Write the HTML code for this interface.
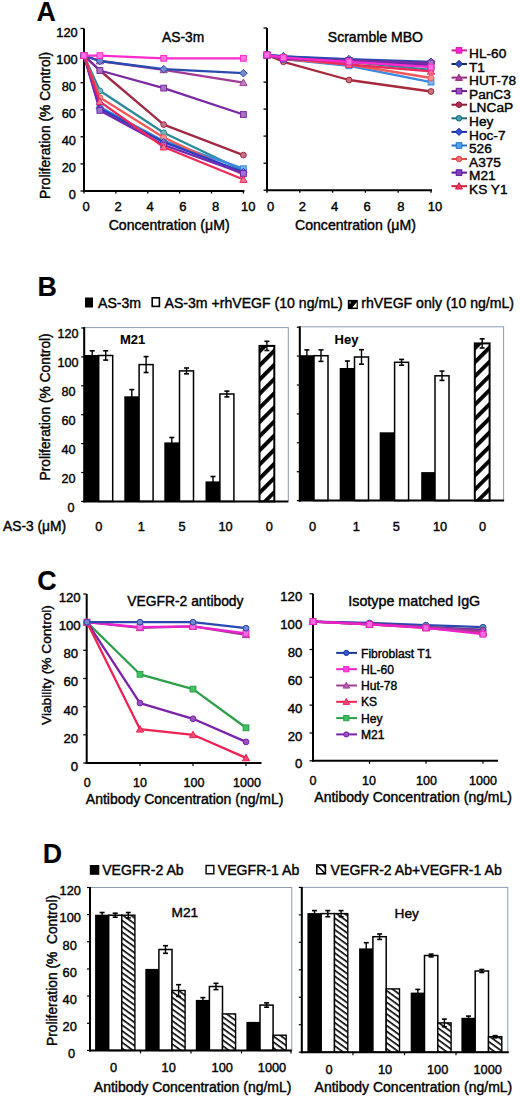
<!DOCTYPE html><html><head><meta charset="utf-8"><style>html,body{margin:0;padding:0;background:#fff;}svg{display:block;}</style></head><body>
<svg width="520" height="1097" viewBox="0 0 520 1097" font-family='"Liberation Sans", sans-serif' fill="#000">
<style>text{stroke:#000;stroke-width:0.4px;} text[font-weight=bold]{stroke-width:0.1px;}</style>
<rect width="520" height="1097" fill="#fff"/>
<defs>
<pattern id="hB" patternUnits="userSpaceOnUse" width="10" height="10" patternTransform="rotate(-45)"><rect width="10" height="10" fill="#fff"/><rect width="10" height="3.9" fill="#000"/></pattern>
<pattern id="hD" patternUnits="userSpaceOnUse" width="4.7" height="4.7" patternTransform="rotate(36)"><rect width="4.7" height="4.7" fill="#fff"/><rect width="4.7" height="1.6" fill="#000"/></pattern>
</defs>
<text x="36.5" y="21.2" font-size="26.8" text-anchor="start" font-weight="bold" >A</text>
<line x1="84.0" y1="28.5" x2="84.0" y2="192.0" stroke="#000" stroke-width="2" />
<line x1="83.0" y1="191.0" x2="244.4" y2="191.0" stroke="#000" stroke-width="2" />
<line x1="80.5" y1="191.0" x2="84.0" y2="191.0" stroke="#000" stroke-width="1.3" />
<text x="75.9" y="199.4" font-size="12.8" text-anchor="end" >0</text>
<line x1="80.5" y1="163.9" x2="84.0" y2="163.9" stroke="#000" stroke-width="1.3" />
<text x="75.9" y="172.3" font-size="12.8" text-anchor="end" >20</text>
<line x1="80.5" y1="136.8" x2="84.0" y2="136.8" stroke="#000" stroke-width="1.3" />
<text x="75.9" y="145.2" font-size="12.8" text-anchor="end" >40</text>
<line x1="80.5" y1="109.8" x2="84.0" y2="109.8" stroke="#000" stroke-width="1.3" />
<text x="75.9" y="118.2" font-size="12.8" text-anchor="end" >60</text>
<line x1="80.5" y1="82.7" x2="84.0" y2="82.7" stroke="#000" stroke-width="1.3" />
<text x="75.9" y="91.1" font-size="12.8" text-anchor="end" >80</text>
<line x1="80.5" y1="55.6" x2="84.0" y2="55.6" stroke="#000" stroke-width="1.3" />
<text x="77.7" y="64.0" font-size="12.8" text-anchor="end" >100</text>
<line x1="80.5" y1="28.5" x2="84.0" y2="28.5" stroke="#000" stroke-width="1.3" />
<text x="77.7" y="36.9" font-size="12.8" text-anchor="end" >120</text>
<line x1="84.0" y1="191.0" x2="84.0" y2="193.5" stroke="#000" stroke-width="1.3" />
<text x="86.0" y="211.3" font-size="13" text-anchor="middle" >0</text>
<line x1="115.9" y1="191.0" x2="115.9" y2="193.5" stroke="#000" stroke-width="1.3" />
<text x="118.2" y="211.3" font-size="13" text-anchor="middle" >2</text>
<line x1="147.8" y1="191.0" x2="147.8" y2="193.5" stroke="#000" stroke-width="1.3" />
<text x="150.1" y="211.3" font-size="13" text-anchor="middle" >4</text>
<line x1="179.6" y1="191.0" x2="179.6" y2="193.5" stroke="#000" stroke-width="1.3" />
<text x="182.9" y="211.3" font-size="13" text-anchor="middle" >6</text>
<line x1="211.5" y1="191.0" x2="211.5" y2="193.5" stroke="#000" stroke-width="1.3" />
<text x="215.6" y="211.3" font-size="13" text-anchor="middle" >8</text>
<line x1="243.4" y1="191.0" x2="243.4" y2="193.5" stroke="#000" stroke-width="1.3" />
<text x="248.2" y="211.3" font-size="13" text-anchor="middle" >10</text>
<text x="162.0" y="42.0" font-size="13.8" text-anchor="start" >AS-3m</text>
<text x="108.7" y="229.5" font-size="14.1" text-anchor="start" >Concentration (&#956;M)</text>
<text x="0" y="0" font-size="13.8" transform="translate(49.5,199.0) rotate(-90)">Proliferation (% Control)</text>
<polyline points="84.0,55.6 99.9,70.5 163.7,124.6 243.4,155.1" fill="none" stroke="#a02a44" stroke-width="2.3" stroke-linejoin="round"/>
<circle cx="84.0" cy="55.6" r="2.9" fill="#c17485" stroke="#a02a44" stroke-width="1"/>
<circle cx="99.9" cy="70.5" r="2.9" fill="#c17485" stroke="#a02a44" stroke-width="1"/>
<circle cx="163.7" cy="124.6" r="2.9" fill="#c17485" stroke="#a02a44" stroke-width="1"/>
<circle cx="243.4" cy="155.1" r="2.9" fill="#c17485" stroke="#a02a44" stroke-width="1"/>
<polyline points="84.0,55.6 99.9,70.5 163.7,88.1 243.4,114.5" fill="none" stroke="#7a2aa0" stroke-width="2.3" stroke-linejoin="round"/>
<rect x="81.1" y="52.7" width="5.8" height="5.8" fill="#a874c1" stroke="#7a2aa0" stroke-width="1"/>
<rect x="97.0" y="67.6" width="5.8" height="5.8" fill="#a874c1" stroke="#7a2aa0" stroke-width="1"/>
<rect x="160.8" y="85.2" width="5.8" height="5.8" fill="#a874c1" stroke="#7a2aa0" stroke-width="1"/>
<rect x="240.5" y="111.6" width="5.8" height="5.8" fill="#a874c1" stroke="#7a2aa0" stroke-width="1"/>
<polyline points="84.0,55.6 99.9,90.8 163.7,132.8 243.4,170.7" fill="none" stroke="#2a8a9a" stroke-width="2.3" stroke-linejoin="round"/>
<circle cx="84.0" cy="55.6" r="2.9" fill="#74b2bd" stroke="#2a8a9a" stroke-width="1"/>
<circle cx="99.9" cy="90.8" r="2.9" fill="#74b2bd" stroke="#2a8a9a" stroke-width="1"/>
<circle cx="163.7" cy="132.8" r="2.9" fill="#74b2bd" stroke="#2a8a9a" stroke-width="1"/>
<circle cx="243.4" cy="170.7" r="2.9" fill="#74b2bd" stroke="#2a8a9a" stroke-width="1"/>
<polyline points="84.0,55.6 99.9,107.0 163.7,140.9 243.4,168.7" fill="none" stroke="#3a8ae0" stroke-width="2.3" stroke-linejoin="round"/>
<rect x="81.1" y="52.7" width="5.8" height="5.8" fill="#7eb2ea" stroke="#3a8ae0" stroke-width="1"/>
<rect x="97.0" y="104.1" width="5.8" height="5.8" fill="#7eb2ea" stroke="#3a8ae0" stroke-width="1"/>
<rect x="160.8" y="138.0" width="5.8" height="5.8" fill="#7eb2ea" stroke="#3a8ae0" stroke-width="1"/>
<rect x="240.5" y="165.8" width="5.8" height="5.8" fill="#7eb2ea" stroke="#3a8ae0" stroke-width="1"/>
<polyline points="84.0,55.6 99.9,97.6 163.7,137.5 243.4,174.8" fill="none" stroke="#f05a5a" stroke-width="2.3" stroke-linejoin="round"/>
<circle cx="84.0" cy="55.6" r="2.9" fill="#f59393" stroke="#f05a5a" stroke-width="1"/>
<circle cx="99.9" cy="97.6" r="2.9" fill="#f59393" stroke="#f05a5a" stroke-width="1"/>
<circle cx="163.7" cy="137.5" r="2.9" fill="#f59393" stroke="#f05a5a" stroke-width="1"/>
<circle cx="243.4" cy="174.8" r="2.9" fill="#f59393" stroke="#f05a5a" stroke-width="1"/>
<polyline points="84.0,55.6 99.9,108.4 163.7,142.2 243.4,172.0" fill="none" stroke="#2840c0" stroke-width="2.3" stroke-linejoin="round"/>
<path d="M84.0 51.8L87.8 55.6L84.0 59.4L80.2 55.6Z" fill="#7382d6" stroke="#2840c0" stroke-width="1"/>
<path d="M99.9 104.6L103.7 108.4L99.9 112.2L96.2 108.4Z" fill="#7382d6" stroke="#2840c0" stroke-width="1"/>
<path d="M163.7 138.5L167.5 142.2L163.7 146.0L159.9 142.2Z" fill="#7382d6" stroke="#2840c0" stroke-width="1"/>
<path d="M243.4 168.3L247.2 172.0L243.4 175.8L239.6 172.0Z" fill="#7382d6" stroke="#2840c0" stroke-width="1"/>
<polyline points="84.0,55.6 99.9,110.4 163.7,145.0 243.4,173.4" fill="none" stroke="#7028b0" stroke-width="2.3" stroke-linejoin="round"/>
<rect x="81.1" y="52.7" width="5.8" height="5.8" fill="#a273cb" stroke="#7028b0" stroke-width="1"/>
<rect x="97.0" y="107.5" width="5.8" height="5.8" fill="#a273cb" stroke="#7028b0" stroke-width="1"/>
<rect x="160.8" y="142.1" width="5.8" height="5.8" fill="#a273cb" stroke="#7028b0" stroke-width="1"/>
<rect x="240.5" y="170.5" width="5.8" height="5.8" fill="#a273cb" stroke="#7028b0" stroke-width="1"/>
<polyline points="84.0,55.6 99.9,101.6 163.7,147.0 243.4,179.5" fill="none" stroke="#ee2a5a" stroke-width="2.3" stroke-linejoin="round"/>
<path d="M84.0 52.0L87.6 58.5L80.4 58.5Z" fill="#f37493" stroke="#ee2a5a" stroke-width="1"/>
<path d="M99.9 98.0L103.6 104.5L96.3 104.5Z" fill="#f37493" stroke="#ee2a5a" stroke-width="1"/>
<path d="M163.7 143.4L167.3 149.9L160.1 149.9Z" fill="#f37493" stroke="#ee2a5a" stroke-width="1"/>
<path d="M243.4 175.9L247.0 182.4L239.8 182.4Z" fill="#f37493" stroke="#ee2a5a" stroke-width="1"/>
<polyline points="84.0,55.6 99.9,61.0 163.7,69.8 243.4,82.7" fill="none" stroke="#a03c96" stroke-width="2.3" stroke-linejoin="round"/>
<path d="M84.0 52.0L87.6 58.5L80.4 58.5Z" fill="#c180ba" stroke="#a03c96" stroke-width="1"/>
<path d="M99.9 57.4L103.6 63.9L96.3 63.9Z" fill="#c180ba" stroke="#a03c96" stroke-width="1"/>
<path d="M163.7 66.2L167.3 72.7L160.1 72.7Z" fill="#c180ba" stroke="#a03c96" stroke-width="1"/>
<path d="M243.4 79.0L247.0 85.6L239.8 85.6Z" fill="#c180ba" stroke="#a03c96" stroke-width="1"/>
<polyline points="84.0,55.6 99.9,61.0 163.7,69.1 243.4,73.2" fill="none" stroke="#2a4ab0" stroke-width="2.3" stroke-linejoin="round"/>
<path d="M84.0 51.8L87.8 55.6L84.0 59.4L80.2 55.6Z" fill="#7489cb" stroke="#2a4ab0" stroke-width="1"/>
<path d="M99.9 57.2L103.7 61.0L99.9 64.8L96.2 61.0Z" fill="#7489cb" stroke="#2a4ab0" stroke-width="1"/>
<path d="M163.7 65.4L167.5 69.1L163.7 72.9L159.9 69.1Z" fill="#7489cb" stroke="#2a4ab0" stroke-width="1"/>
<path d="M243.4 69.4L247.2 73.2L243.4 77.0L239.6 73.2Z" fill="#7489cb" stroke="#2a4ab0" stroke-width="1"/>
<polyline points="84.0,55.6 99.9,55.6 163.7,58.3 243.4,58.3" fill="none" stroke="#ff2acc" stroke-width="2.3" stroke-linejoin="round"/>
<rect x="81.1" y="52.7" width="5.8" height="5.8" fill="#ff74dd" stroke="#ff2acc" stroke-width="1"/>
<rect x="97.0" y="52.7" width="5.8" height="5.8" fill="#ff74dd" stroke="#ff2acc" stroke-width="1"/>
<rect x="160.8" y="55.4" width="5.8" height="5.8" fill="#ff74dd" stroke="#ff2acc" stroke-width="1"/>
<rect x="240.5" y="55.4" width="5.8" height="5.8" fill="#ff74dd" stroke="#ff2acc" stroke-width="1"/>
<line x1="267.0" y1="28.0" x2="267.0" y2="191.2" stroke="#000" stroke-width="2" />
<line x1="266.0" y1="190.2" x2="432.0" y2="190.2" stroke="#000" stroke-width="2" />
<line x1="263.5" y1="190.2" x2="267.0" y2="190.2" stroke="#000" stroke-width="1.3" />
<line x1="263.5" y1="163.2" x2="267.0" y2="163.2" stroke="#000" stroke-width="1.3" />
<line x1="263.5" y1="136.1" x2="267.0" y2="136.1" stroke="#000" stroke-width="1.3" />
<line x1="263.5" y1="109.1" x2="267.0" y2="109.1" stroke="#000" stroke-width="1.3" />
<line x1="263.5" y1="82.1" x2="267.0" y2="82.1" stroke="#000" stroke-width="1.3" />
<line x1="263.5" y1="55.0" x2="267.0" y2="55.0" stroke="#000" stroke-width="1.3" />
<line x1="263.5" y1="28.0" x2="267.0" y2="28.0" stroke="#000" stroke-width="1.3" />
<line x1="267.0" y1="190.2" x2="267.0" y2="192.7" stroke="#000" stroke-width="1.3" />
<text x="270.6" y="211.3" font-size="13" text-anchor="middle" >0</text>
<line x1="299.8" y1="190.2" x2="299.8" y2="192.7" stroke="#000" stroke-width="1.3" />
<text x="302.3" y="211.3" font-size="13" text-anchor="middle" >2</text>
<line x1="332.6" y1="190.2" x2="332.6" y2="192.7" stroke="#000" stroke-width="1.3" />
<text x="334.5" y="211.3" font-size="13" text-anchor="middle" >4</text>
<line x1="365.4" y1="190.2" x2="365.4" y2="192.7" stroke="#000" stroke-width="1.3" />
<text x="367.1" y="211.3" font-size="13" text-anchor="middle" >6</text>
<line x1="398.2" y1="190.2" x2="398.2" y2="192.7" stroke="#000" stroke-width="1.3" />
<text x="400.8" y="211.3" font-size="13" text-anchor="middle" >8</text>
<line x1="431.0" y1="190.2" x2="431.0" y2="192.7" stroke="#000" stroke-width="1.3" />
<text x="434.9" y="211.3" font-size="13" text-anchor="middle" >10</text>
<text x="327.8" y="42.0" font-size="14.05" text-anchor="start" >Scramble MBO</text>
<text x="295.0" y="229.5" font-size="14.1" text-anchor="start" >Concentration (&#956;M)</text>
<polyline points="267.0,55.0 283.4,61.8 349.0,80.0 431.0,91.5" fill="none" stroke="#a8283c" stroke-width="2.3" stroke-linejoin="round"/>
<circle cx="267.0" cy="55.0" r="2.9" fill="#c67380" stroke="#a8283c" stroke-width="1"/>
<circle cx="283.4" cy="61.8" r="2.9" fill="#c67380" stroke="#a8283c" stroke-width="1"/>
<circle cx="349.0" cy="80.0" r="2.9" fill="#c67380" stroke="#a8283c" stroke-width="1"/>
<circle cx="431.0" cy="91.5" r="2.9" fill="#c67380" stroke="#a8283c" stroke-width="1"/>
<polyline points="267.0,55.0 283.4,59.1 349.0,65.8 431.0,82.1" fill="none" stroke="#3a8ae0" stroke-width="2.3" stroke-linejoin="round"/>
<rect x="264.1" y="52.1" width="5.8" height="5.8" fill="#7eb2ea" stroke="#3a8ae0" stroke-width="1"/>
<rect x="280.5" y="56.2" width="5.8" height="5.8" fill="#7eb2ea" stroke="#3a8ae0" stroke-width="1"/>
<rect x="346.1" y="62.9" width="5.8" height="5.8" fill="#7eb2ea" stroke="#3a8ae0" stroke-width="1"/>
<rect x="428.1" y="79.2" width="5.8" height="5.8" fill="#7eb2ea" stroke="#3a8ae0" stroke-width="1"/>
<polyline points="267.0,55.0 283.4,59.1 349.0,64.5 431.0,78.0" fill="none" stroke="#f05a5a" stroke-width="2.3" stroke-linejoin="round"/>
<circle cx="267.0" cy="55.0" r="2.9" fill="#f59393" stroke="#f05a5a" stroke-width="1"/>
<circle cx="283.4" cy="59.1" r="2.9" fill="#f59393" stroke="#f05a5a" stroke-width="1"/>
<circle cx="349.0" cy="64.5" r="2.9" fill="#f59393" stroke="#f05a5a" stroke-width="1"/>
<circle cx="431.0" cy="78.0" r="2.9" fill="#f59393" stroke="#f05a5a" stroke-width="1"/>
<polyline points="267.0,55.0 283.4,57.7 349.0,61.8 431.0,69.9" fill="none" stroke="#2a8a9a" stroke-width="2.3" stroke-linejoin="round"/>
<circle cx="267.0" cy="55.0" r="2.9" fill="#74b2bd" stroke="#2a8a9a" stroke-width="1"/>
<circle cx="283.4" cy="57.7" r="2.9" fill="#74b2bd" stroke="#2a8a9a" stroke-width="1"/>
<circle cx="349.0" cy="61.8" r="2.9" fill="#74b2bd" stroke="#2a8a9a" stroke-width="1"/>
<circle cx="431.0" cy="69.9" r="2.9" fill="#74b2bd" stroke="#2a8a9a" stroke-width="1"/>
<polyline points="267.0,55.0 283.4,57.7 349.0,64.5 431.0,71.3" fill="none" stroke="#ee2a5a" stroke-width="2.3" stroke-linejoin="round"/>
<path d="M267.0 51.4L270.6 57.9L263.4 57.9Z" fill="#f37493" stroke="#ee2a5a" stroke-width="1"/>
<path d="M283.4 54.1L287.0 60.6L279.8 60.6Z" fill="#f37493" stroke="#ee2a5a" stroke-width="1"/>
<path d="M349.0 60.9L352.6 67.4L345.4 67.4Z" fill="#f37493" stroke="#ee2a5a" stroke-width="1"/>
<path d="M431.0 67.6L434.6 74.2L427.4 74.2Z" fill="#f37493" stroke="#ee2a5a" stroke-width="1"/>
<polyline points="267.0,55.0 283.4,57.7 349.0,61.8 431.0,65.8" fill="none" stroke="#a03c96" stroke-width="2.3" stroke-linejoin="round"/>
<path d="M267.0 51.4L270.6 57.9L263.4 57.9Z" fill="#c180ba" stroke="#a03c96" stroke-width="1"/>
<path d="M283.4 54.1L287.0 60.6L279.8 60.6Z" fill="#c180ba" stroke="#a03c96" stroke-width="1"/>
<path d="M349.0 58.2L352.6 64.7L345.4 64.7Z" fill="#c180ba" stroke="#a03c96" stroke-width="1"/>
<path d="M431.0 62.2L434.6 68.7L427.4 68.7Z" fill="#c180ba" stroke="#a03c96" stroke-width="1"/>
<polyline points="267.0,55.0 283.4,57.7 349.0,60.4 431.0,64.5" fill="none" stroke="#7028b0" stroke-width="2.3" stroke-linejoin="round"/>
<rect x="264.1" y="52.1" width="5.8" height="5.8" fill="#a273cb" stroke="#7028b0" stroke-width="1"/>
<rect x="280.5" y="54.8" width="5.8" height="5.8" fill="#a273cb" stroke="#7028b0" stroke-width="1"/>
<rect x="346.1" y="57.5" width="5.8" height="5.8" fill="#a273cb" stroke="#7028b0" stroke-width="1"/>
<rect x="428.1" y="61.6" width="5.8" height="5.8" fill="#a273cb" stroke="#7028b0" stroke-width="1"/>
<polyline points="267.0,55.0 283.4,56.4 349.0,60.4 431.0,63.1" fill="none" stroke="#2840c0" stroke-width="2.3" stroke-linejoin="round"/>
<path d="M267.0 51.3L270.8 55.0L267.0 58.8L263.2 55.0Z" fill="#7382d6" stroke="#2840c0" stroke-width="1"/>
<path d="M283.4 52.6L287.2 56.4L283.4 60.2L279.6 56.4Z" fill="#7382d6" stroke="#2840c0" stroke-width="1"/>
<path d="M349.0 56.7L352.8 60.4L349.0 64.2L345.2 60.4Z" fill="#7382d6" stroke="#2840c0" stroke-width="1"/>
<path d="M431.0 59.4L434.8 63.1L431.0 66.9L427.2 63.1Z" fill="#7382d6" stroke="#2840c0" stroke-width="1"/>
<polyline points="267.0,55.0 283.4,56.4 349.0,59.1 431.0,61.8" fill="none" stroke="#2a4ab0" stroke-width="2.3" stroke-linejoin="round"/>
<path d="M267.0 51.3L270.8 55.0L267.0 58.8L263.2 55.0Z" fill="#7489cb" stroke="#2a4ab0" stroke-width="1"/>
<path d="M283.4 52.6L287.2 56.4L283.4 60.2L279.6 56.4Z" fill="#7489cb" stroke="#2a4ab0" stroke-width="1"/>
<path d="M349.0 55.3L352.8 59.1L349.0 62.9L345.2 59.1Z" fill="#7489cb" stroke="#2a4ab0" stroke-width="1"/>
<path d="M431.0 58.0L434.8 61.8L431.0 65.6L427.2 61.8Z" fill="#7489cb" stroke="#2a4ab0" stroke-width="1"/>
<polyline points="267.0,55.0 283.4,59.1 349.0,60.4 431.0,63.1" fill="none" stroke="#7a2aa0" stroke-width="2.3" stroke-linejoin="round"/>
<rect x="264.1" y="52.1" width="5.8" height="5.8" fill="#a874c1" stroke="#7a2aa0" stroke-width="1"/>
<rect x="280.5" y="56.2" width="5.8" height="5.8" fill="#a874c1" stroke="#7a2aa0" stroke-width="1"/>
<rect x="346.1" y="57.5" width="5.8" height="5.8" fill="#a874c1" stroke="#7a2aa0" stroke-width="1"/>
<rect x="428.1" y="60.2" width="5.8" height="5.8" fill="#a874c1" stroke="#7a2aa0" stroke-width="1"/>
<polyline points="267.0,55.0 283.4,57.7 349.0,61.8 431.0,67.2" fill="none" stroke="#ff2acc" stroke-width="2.3" stroke-linejoin="round"/>
<rect x="264.1" y="52.1" width="5.8" height="5.8" fill="#ff74dd" stroke="#ff2acc" stroke-width="1"/>
<rect x="280.5" y="54.8" width="5.8" height="5.8" fill="#ff74dd" stroke="#ff2acc" stroke-width="1"/>
<rect x="346.1" y="58.9" width="5.8" height="5.8" fill="#ff74dd" stroke="#ff2acc" stroke-width="1"/>
<rect x="428.1" y="64.3" width="5.8" height="5.8" fill="#ff74dd" stroke="#ff2acc" stroke-width="1"/>
<line x1="451.5" y1="50.4" x2="467.0" y2="50.4" stroke="#d0209a" stroke-width="2" />
<rect x="456.2" y="47.6" width="5.6" height="5.6" fill="#ff22dd" stroke="#d0209a" stroke-width="1"/>
<text x="469.0" y="58.0" font-size="13.7" text-anchor="start" >HL-60</text>
<line x1="451.5" y1="64.0" x2="467.0" y2="64.0" stroke="#1a2a6a" stroke-width="2" />
<path d="M459.0 60.3L462.6 64.0L459.0 67.6L455.4 64.0Z" fill="#2f4fc0" stroke="#1a2a6a" stroke-width="1"/>
<text x="469.0" y="71.6" font-size="13.7" text-anchor="start" >T1</text>
<line x1="451.5" y1="77.6" x2="467.0" y2="77.6" stroke="#9a2a7a" stroke-width="2" />
<path d="M459.0 74.1L462.5 80.4L455.5 80.4Z" fill="#b040a0" stroke="#9a2a7a" stroke-width="1"/>
<text x="469.0" y="85.2" font-size="13.7" text-anchor="start" >HUT-78</text>
<line x1="451.5" y1="91.1" x2="467.0" y2="91.1" stroke="#6a1a8a" stroke-width="2" />
<rect x="456.2" y="88.3" width="5.6" height="5.6" fill="#9a50c0" stroke="#6a1a8a" stroke-width="1"/>
<text x="469.0" y="98.7" font-size="13.7" text-anchor="start" >PanC3</text>
<line x1="451.5" y1="104.7" x2="467.0" y2="104.7" stroke="#901a3a" stroke-width="2" />
<circle cx="459.0" cy="104.7" r="2.8" fill="#b03050" stroke="#901a3a" stroke-width="1"/>
<text x="469.0" y="112.3" font-size="13.7" text-anchor="start" >LNCaP</text>
<line x1="451.5" y1="118.3" x2="467.0" y2="118.3" stroke="#1a6a7a" stroke-width="2" />
<circle cx="459.0" cy="118.3" r="2.8" fill="#40a0b0" stroke="#1a6a7a" stroke-width="1"/>
<text x="469.0" y="125.9" font-size="13.7" text-anchor="start" >Hey</text>
<line x1="451.5" y1="131.9" x2="467.0" y2="131.9" stroke="#1a2aa0" stroke-width="2" />
<path d="M459.0 128.2L462.6 131.9L459.0 135.5L455.4 131.9Z" fill="#3050d0" stroke="#1a2aa0" stroke-width="1"/>
<text x="469.0" y="139.5" font-size="13.7" text-anchor="start" >Hoc-7</text>
<line x1="451.5" y1="145.5" x2="467.0" y2="145.5" stroke="#2a70c0" stroke-width="2" />
<rect x="456.2" y="142.7" width="5.6" height="5.6" fill="#50a0f0" stroke="#2a70c0" stroke-width="1"/>
<text x="469.0" y="153.1" font-size="13.7" text-anchor="start" >526</text>
<line x1="451.5" y1="159.0" x2="467.0" y2="159.0" stroke="#e04848" stroke-width="2" />
<circle cx="459.0" cy="159.0" r="2.8" fill="#f07070" stroke="#e04848" stroke-width="1"/>
<text x="469.0" y="166.6" font-size="13.7" text-anchor="start" >A375</text>
<line x1="451.5" y1="172.6" x2="467.0" y2="172.6" stroke="#5a1a9a" stroke-width="2" />
<rect x="456.2" y="169.8" width="5.6" height="5.6" fill="#8040c0" stroke="#5a1a9a" stroke-width="1"/>
<text x="469.0" y="180.2" font-size="13.7" text-anchor="start" >M21</text>
<line x1="451.5" y1="186.2" x2="467.0" y2="186.2" stroke="#d01a40" stroke-width="2" />
<path d="M459.0 182.7L462.5 189.0L455.5 189.0Z" fill="#f04060" stroke="#d01a40" stroke-width="1"/>
<text x="469.0" y="193.8" font-size="13.7" text-anchor="start" >KS Y1</text>
<text x="37.5" y="295.6" font-size="26.8" text-anchor="start" font-weight="bold" >B</text>
<rect x="85.0" y="297.5" width="8.0" height="10.0" fill="#000" stroke="none" stroke-width="0" />
<text x="98.0" y="307.6" font-size="14.1" text-anchor="start" >AS-3m</text>
<rect x="152.2" y="297.8" width="7.2" height="8.6" fill="#fff" stroke="#000" stroke-width="1.6" />
<text x="164.5" y="307.6" font-size="14.1" text-anchor="start" >AS-3m +rhVEGF (10 ng/mL)</text>
<rect x="347.8" y="299.9" width="10.0" height="9.2" fill="#000" stroke="none" stroke-width="0" />
<path d="M352.3 307.5 L356.6 302.2 L356.6 307.5 Z" fill="#fff"/>
<ellipse cx="350.2" cy="302.6" rx="0.9" ry="1.3" fill="#888"/>
<text x="361.3" y="307.6" font-size="14.1" text-anchor="start" >rhVEGF only (10 ng/mL)</text>
<rect x="84.2" y="327.6" width="204.1" height="173.8" fill="none" stroke="#8c9bb4" stroke-width="1" />
<rect x="84.7" y="355.0" width="15.0" height="146.4" fill="#000" stroke="none" stroke-width="0" />
<line x1="92.2" y1="350.8" x2="92.2" y2="360.1" stroke="#000" stroke-width="1.4" />
<line x1="89.7" y1="350.8" x2="94.7" y2="350.8" stroke="#000" stroke-width="1.6" />
<line x1="89.7" y1="360.1" x2="94.7" y2="360.1" stroke="#000" stroke-width="1.6" />
<rect x="124.3" y="396.3" width="15.0" height="105.1" fill="#000" stroke="none" stroke-width="0" />
<line x1="131.8" y1="389.6" x2="131.8" y2="404.0" stroke="#000" stroke-width="1.4" />
<line x1="129.3" y1="389.6" x2="134.3" y2="389.6" stroke="#000" stroke-width="1.6" />
<line x1="129.3" y1="404.0" x2="134.3" y2="404.0" stroke="#000" stroke-width="1.6" />
<rect x="164.3" y="442.4" width="15.0" height="59.0" fill="#000" stroke="none" stroke-width="0" />
<line x1="171.8" y1="437.5" x2="171.8" y2="448.2" stroke="#000" stroke-width="1.4" />
<line x1="169.3" y1="437.5" x2="174.3" y2="437.5" stroke="#000" stroke-width="1.6" />
<line x1="169.3" y1="448.2" x2="174.3" y2="448.2" stroke="#000" stroke-width="1.6" />
<rect x="205.5" y="481.4" width="15.0" height="20.0" fill="#000" stroke="none" stroke-width="0" />
<line x1="213.0" y1="476.5" x2="213.0" y2="487.2" stroke="#000" stroke-width="1.4" />
<line x1="210.5" y1="476.5" x2="215.5" y2="476.5" stroke="#000" stroke-width="1.6" />
<line x1="210.5" y1="487.2" x2="215.5" y2="487.2" stroke="#000" stroke-width="1.6" />
<rect x="98.7" y="355.5" width="14.0" height="145.9" fill="#fff" stroke="#000" stroke-width="1.5" />
<line x1="105.7" y1="350.8" x2="105.7" y2="360.1" stroke="#000" stroke-width="1.4" />
<line x1="103.2" y1="350.8" x2="108.2" y2="350.8" stroke="#000" stroke-width="1.6" />
<line x1="103.2" y1="360.1" x2="108.2" y2="360.1" stroke="#000" stroke-width="1.6" />
<rect x="139.1" y="364.6" width="14.0" height="136.8" fill="#fff" stroke="#000" stroke-width="1.5" />
<line x1="146.1" y1="356.6" x2="146.1" y2="372.5" stroke="#000" stroke-width="1.4" />
<line x1="143.6" y1="356.6" x2="148.6" y2="356.6" stroke="#000" stroke-width="1.6" />
<line x1="143.6" y1="372.5" x2="148.6" y2="372.5" stroke="#000" stroke-width="1.6" />
<rect x="179.5" y="370.9" width="14.0" height="130.5" fill="#fff" stroke="#000" stroke-width="1.5" />
<line x1="186.5" y1="368.0" x2="186.5" y2="373.8" stroke="#000" stroke-width="1.4" />
<line x1="184.0" y1="368.0" x2="189.0" y2="368.0" stroke="#000" stroke-width="1.6" />
<line x1="184.0" y1="373.8" x2="189.0" y2="373.8" stroke="#000" stroke-width="1.6" />
<rect x="219.9" y="394.0" width="14.0" height="107.4" fill="#fff" stroke="#000" stroke-width="1.5" />
<line x1="226.9" y1="391.1" x2="226.9" y2="396.9" stroke="#000" stroke-width="1.4" />
<line x1="224.4" y1="391.1" x2="229.4" y2="391.1" stroke="#000" stroke-width="1.6" />
<line x1="224.4" y1="396.9" x2="229.4" y2="396.9" stroke="#000" stroke-width="1.6" />
<rect x="259.5" y="345.9" width="14.8" height="155.5" fill="url(#hB)" stroke="#000" stroke-width="2" />
<line x1="266.9" y1="341.3" x2="266.9" y2="350.5" stroke="#000" stroke-width="1.4" />
<line x1="264.4" y1="341.3" x2="269.4" y2="341.3" stroke="#000" stroke-width="1.6" />
<line x1="264.4" y1="350.5" x2="269.4" y2="350.5" stroke="#000" stroke-width="1.6" />
<line x1="84.2" y1="327.1" x2="84.2" y2="502.4" stroke="#000" stroke-width="2" />
<line x1="83.2" y1="501.4" x2="288.3" y2="501.4" stroke="#000" stroke-width="2" />
<line x1="81.2" y1="501.4" x2="84.2" y2="501.4" stroke="#000" stroke-width="1.2" />
<text x="74.6" y="511.6" font-size="12.6" text-anchor="end" >0</text>
<line x1="81.2" y1="472.5" x2="84.2" y2="472.5" stroke="#000" stroke-width="1.2" />
<text x="75.6" y="482.7" font-size="12.6" text-anchor="end" >20</text>
<line x1="81.2" y1="443.6" x2="84.2" y2="443.6" stroke="#000" stroke-width="1.2" />
<text x="75.6" y="453.8" font-size="12.6" text-anchor="end" >40</text>
<line x1="81.2" y1="414.7" x2="84.2" y2="414.7" stroke="#000" stroke-width="1.2" />
<text x="75.6" y="424.9" font-size="12.6" text-anchor="end" >60</text>
<line x1="81.2" y1="385.8" x2="84.2" y2="385.8" stroke="#000" stroke-width="1.2" />
<text x="75.6" y="396.0" font-size="12.6" text-anchor="end" >80</text>
<line x1="81.2" y1="356.9" x2="84.2" y2="356.9" stroke="#000" stroke-width="1.2" />
<text x="78.4" y="367.1" font-size="12.6" text-anchor="end" >100</text>
<line x1="81.2" y1="328.0" x2="84.2" y2="328.0" stroke="#000" stroke-width="1.2" />
<text x="78.4" y="338.2" font-size="12.6" text-anchor="end" >120</text>
<text x="0" y="0" font-size="13.8" transform="translate(49.8,480.5) rotate(-90)">Proliferation (% Control)</text>
<text x="120.0" y="344.2" font-size="13" text-anchor="start" font-weight="bold" >M21</text>
<rect x="299.8" y="326.8" width="203.8" height="173.8" fill="none" stroke="#8c9bb4" stroke-width="1" />
<rect x="299.1" y="355.2" width="15.5" height="145.4" fill="#000" stroke="none" stroke-width="0" />
<line x1="306.9" y1="349.9" x2="306.9" y2="361.4" stroke="#000" stroke-width="1.4" />
<line x1="304.4" y1="349.9" x2="309.4" y2="349.9" stroke="#000" stroke-width="1.6" />
<line x1="304.4" y1="361.4" x2="309.4" y2="361.4" stroke="#000" stroke-width="1.6" />
<rect x="339.7" y="368.0" width="15.5" height="132.6" fill="#000" stroke="none" stroke-width="0" />
<line x1="347.4" y1="361.0" x2="347.4" y2="376.0" stroke="#000" stroke-width="1.4" />
<line x1="344.9" y1="361.0" x2="349.9" y2="361.0" stroke="#000" stroke-width="1.6" />
<line x1="344.9" y1="376.0" x2="349.9" y2="376.0" stroke="#000" stroke-width="1.6" />
<rect x="379.7" y="432.3" width="15.5" height="68.3" fill="#000" stroke="none" stroke-width="0" />
<rect x="421.2" y="472.1" width="15.5" height="28.5" fill="#000" stroke="none" stroke-width="0" />
<rect x="314.0" y="355.7" width="14.0" height="144.9" fill="#fff" stroke="#000" stroke-width="1.5" />
<line x1="321.0" y1="349.9" x2="321.0" y2="361.4" stroke="#000" stroke-width="1.4" />
<line x1="318.5" y1="349.9" x2="323.5" y2="349.9" stroke="#000" stroke-width="1.6" />
<line x1="318.5" y1="361.4" x2="323.5" y2="361.4" stroke="#000" stroke-width="1.6" />
<rect x="354.5" y="357.0" width="14.0" height="143.6" fill="#fff" stroke="#000" stroke-width="1.5" />
<line x1="361.5" y1="349.7" x2="361.5" y2="364.2" stroke="#000" stroke-width="1.4" />
<line x1="359.0" y1="349.7" x2="364.0" y2="349.7" stroke="#000" stroke-width="1.6" />
<line x1="359.0" y1="364.2" x2="364.0" y2="364.2" stroke="#000" stroke-width="1.6" />
<rect x="394.6" y="362.3" width="14.0" height="138.3" fill="#fff" stroke="#000" stroke-width="1.5" />
<line x1="401.6" y1="359.4" x2="401.6" y2="365.2" stroke="#000" stroke-width="1.4" />
<line x1="399.1" y1="359.4" x2="404.1" y2="359.4" stroke="#000" stroke-width="1.6" />
<line x1="399.1" y1="365.2" x2="404.1" y2="365.2" stroke="#000" stroke-width="1.6" />
<rect x="435.0" y="375.8" width="14.0" height="124.8" fill="#fff" stroke="#000" stroke-width="1.5" />
<line x1="442.0" y1="371.1" x2="442.0" y2="380.4" stroke="#000" stroke-width="1.4" />
<line x1="439.5" y1="371.1" x2="444.5" y2="371.1" stroke="#000" stroke-width="1.6" />
<line x1="439.5" y1="380.4" x2="444.5" y2="380.4" stroke="#000" stroke-width="1.6" />
<rect x="474.8" y="343.4" width="14.8" height="157.2" fill="url(#hB)" stroke="#000" stroke-width="2" />
<line x1="482.2" y1="338.8" x2="482.2" y2="348.0" stroke="#000" stroke-width="1.4" />
<line x1="479.7" y1="338.8" x2="484.7" y2="338.8" stroke="#000" stroke-width="1.6" />
<line x1="479.7" y1="348.0" x2="484.7" y2="348.0" stroke="#000" stroke-width="1.6" />
<line x1="299.8" y1="326.3" x2="299.8" y2="501.6" stroke="#000" stroke-width="2" />
<line x1="298.8" y1="500.6" x2="504.1" y2="500.6" stroke="#000" stroke-width="2" />
<line x1="296.8" y1="500.6" x2="299.8" y2="500.6" stroke="#000" stroke-width="1.2" />
<line x1="296.8" y1="471.7" x2="299.8" y2="471.7" stroke="#000" stroke-width="1.2" />
<line x1="296.8" y1="442.8" x2="299.8" y2="442.8" stroke="#000" stroke-width="1.2" />
<line x1="296.8" y1="413.9" x2="299.8" y2="413.9" stroke="#000" stroke-width="1.2" />
<line x1="296.8" y1="385.0" x2="299.8" y2="385.0" stroke="#000" stroke-width="1.2" />
<line x1="296.8" y1="356.1" x2="299.8" y2="356.1" stroke="#000" stroke-width="1.2" />
<line x1="296.8" y1="327.2" x2="299.8" y2="327.2" stroke="#000" stroke-width="1.2" />
<text x="334.6" y="343.8" font-size="13" text-anchor="start" font-weight="bold" >Hey</text>
<text x="3.0" y="531.0" font-size="13.8" text-anchor="start" >AS-3 (&#956;M)</text>
<text x="98.7" y="530.7" font-size="12.8" text-anchor="middle" >0</text>
<text x="141.3" y="530.7" font-size="12.8" text-anchor="middle" >1</text>
<text x="182.0" y="530.7" font-size="12.8" text-anchor="middle" >5</text>
<text x="225.5" y="530.7" font-size="12.8" text-anchor="middle" >10</text>
<text x="269.2" y="530.7" font-size="12.8" text-anchor="middle" >0</text>
<text x="312.5" y="530.7" font-size="12.8" text-anchor="middle" >0</text>
<text x="356.2" y="530.7" font-size="12.8" text-anchor="middle" >1</text>
<text x="396.2" y="530.7" font-size="12.8" text-anchor="middle" >5</text>
<text x="440.0" y="530.7" font-size="12.8" text-anchor="middle" >10</text>
<text x="482.5" y="530.7" font-size="12.8" text-anchor="middle" >0</text>
<text x="37.3" y="590.2" font-size="26.8" text-anchor="start" font-weight="bold" >C</text>
<line x1="86.7" y1="594.0" x2="86.7" y2="764.0" stroke="#000" stroke-width="2" />
<line x1="85.7" y1="763.0" x2="261.5" y2="763.0" stroke="#000" stroke-width="2" />
<line x1="83.2" y1="763.0" x2="86.7" y2="763.0" stroke="#000" stroke-width="1.2" />
<text x="78.2" y="770.8" font-size="13.2" text-anchor="end" >0</text>
<line x1="83.2" y1="734.8" x2="86.7" y2="734.8" stroke="#000" stroke-width="1.2" />
<text x="78.2" y="742.6" font-size="13.2" text-anchor="end" >20</text>
<line x1="83.2" y1="706.7" x2="86.7" y2="706.7" stroke="#000" stroke-width="1.2" />
<text x="78.2" y="714.5" font-size="13.2" text-anchor="end" >40</text>
<line x1="83.2" y1="678.5" x2="86.7" y2="678.5" stroke="#000" stroke-width="1.2" />
<text x="78.2" y="686.3" font-size="13.2" text-anchor="end" >60</text>
<line x1="83.2" y1="650.3" x2="86.7" y2="650.3" stroke="#000" stroke-width="1.2" />
<text x="78.2" y="658.1" font-size="13.2" text-anchor="end" >80</text>
<line x1="83.2" y1="622.2" x2="86.7" y2="622.2" stroke="#000" stroke-width="1.2" />
<text x="80.7" y="630.0" font-size="13.2" text-anchor="end" >100</text>
<line x1="83.2" y1="594.0" x2="86.7" y2="594.0" stroke="#000" stroke-width="1.2" />
<text x="80.7" y="601.8" font-size="13.2" text-anchor="end" >120</text>
<line x1="140.0" y1="763.0" x2="140.0" y2="766.0" stroke="#000" stroke-width="1.2" />
<line x1="193.0" y1="763.0" x2="193.0" y2="766.0" stroke="#000" stroke-width="1.2" />
<line x1="246.0" y1="763.0" x2="246.0" y2="766.0" stroke="#000" stroke-width="1.2" />
<text x="87.2" y="787.0" font-size="12.5" text-anchor="middle" >0</text>
<text x="140.0" y="787.0" font-size="12.5" text-anchor="middle" >10</text>
<text x="194.0" y="787.0" font-size="12.5" text-anchor="middle" >100</text>
<text x="247.0" y="787.0" font-size="12.5" text-anchor="middle" >1000</text>
<text x="127.3" y="606.3" font-size="13.85" text-anchor="start" >VEGFR-2 antibody</text>
<text x="85.8" y="803.8" font-size="14" text-anchor="start" >Antibody Concentration (ng/mL)</text>
<text x="0" y="0" font-size="13.7" transform="translate(51.0,725.0) rotate(-90)">Viability (% Control)</text>
<polyline points="87.0,622.2 140.0,674.3 193.0,689.1 246.0,727.8" fill="none" stroke="#2ca048" stroke-width="2.3" stroke-linejoin="round"/>
<rect x="84.1" y="619.3" width="5.8" height="5.8" fill="#40c060" stroke="#2ca048" stroke-width="1"/>
<rect x="137.1" y="671.4" width="5.8" height="5.8" fill="#40c060" stroke="#2ca048" stroke-width="1"/>
<rect x="190.1" y="686.2" width="5.8" height="5.8" fill="#40c060" stroke="#2ca048" stroke-width="1"/>
<rect x="243.1" y="724.9" width="5.8" height="5.8" fill="#40c060" stroke="#2ca048" stroke-width="1"/>
<polyline points="87.0,622.2 140.0,703.1 193.0,718.8 246.0,741.9" fill="none" stroke="#7a22aa" stroke-width="2.3" stroke-linejoin="round"/>
<circle cx="87.0" cy="622.2" r="2.9" fill="#9a50c0" stroke="#7a22aa" stroke-width="1"/>
<circle cx="140.0" cy="703.1" r="2.9" fill="#9a50c0" stroke="#7a22aa" stroke-width="1"/>
<circle cx="193.0" cy="718.8" r="2.9" fill="#9a50c0" stroke="#7a22aa" stroke-width="1"/>
<circle cx="246.0" cy="741.9" r="2.9" fill="#9a50c0" stroke="#7a22aa" stroke-width="1"/>
<polyline points="87.0,622.2 140.0,729.2 193.0,734.8 246.0,757.9" fill="none" stroke="#ee2255" stroke-width="2.3" stroke-linejoin="round"/>
<path d="M87.0 618.5L90.6 625.1L83.4 625.1Z" fill="#f04a70" stroke="#ee2255" stroke-width="1"/>
<path d="M140.0 725.6L143.6 732.1L136.4 732.1Z" fill="#f04a70" stroke="#ee2255" stroke-width="1"/>
<path d="M193.0 731.2L196.6 737.7L189.4 737.7Z" fill="#f04a70" stroke="#ee2255" stroke-width="1"/>
<path d="M246.0 754.3L249.6 760.8L242.4 760.8Z" fill="#f04a70" stroke="#ee2255" stroke-width="1"/>
<polyline points="87.0,622.2 140.0,627.8 193.0,626.4 246.0,634.8" fill="none" stroke="#a03c96" stroke-width="2.3" stroke-linejoin="round"/>
<path d="M87.0 618.5L90.6 625.1L83.4 625.1Z" fill="#c180ba" stroke="#a03c96" stroke-width="1"/>
<path d="M140.0 624.2L143.6 630.7L136.4 630.7Z" fill="#c180ba" stroke="#a03c96" stroke-width="1"/>
<path d="M193.0 622.8L196.6 629.3L189.4 629.3Z" fill="#c180ba" stroke="#a03c96" stroke-width="1"/>
<path d="M246.0 631.2L249.6 637.7L242.4 637.7Z" fill="#c180ba" stroke="#a03c96" stroke-width="1"/>
<polyline points="87.0,622.2 140.0,627.1 193.0,626.4 246.0,633.4" fill="none" stroke="#ee22cc" stroke-width="2.3" stroke-linejoin="round"/>
<rect x="84.1" y="619.3" width="5.8" height="5.8" fill="#f36fdd" stroke="#ee22cc" stroke-width="1"/>
<rect x="137.1" y="624.2" width="5.8" height="5.8" fill="#f36fdd" stroke="#ee22cc" stroke-width="1"/>
<rect x="190.1" y="623.5" width="5.8" height="5.8" fill="#f36fdd" stroke="#ee22cc" stroke-width="1"/>
<rect x="243.1" y="630.5" width="5.8" height="5.8" fill="#f36fdd" stroke="#ee22cc" stroke-width="1"/>
<polyline points="87.0,622.2 140.0,622.2 193.0,622.2 246.0,628.2" fill="none" stroke="#2a48b0" stroke-width="2.3" stroke-linejoin="round"/>
<circle cx="87.0" cy="622.2" r="2.9" fill="#7488cb" stroke="#2a48b0" stroke-width="1"/>
<circle cx="140.0" cy="622.2" r="2.9" fill="#7488cb" stroke="#2a48b0" stroke-width="1"/>
<circle cx="193.0" cy="622.2" r="2.9" fill="#7488cb" stroke="#2a48b0" stroke-width="1"/>
<circle cx="246.0" cy="628.2" r="2.9" fill="#7488cb" stroke="#2a48b0" stroke-width="1"/>
<line x1="313.0" y1="593.8" x2="313.0" y2="761.8" stroke="#000" stroke-width="2" />
<line x1="312.0" y1="760.8" x2="498.0" y2="760.8" stroke="#000" stroke-width="2" />
<line x1="309.5" y1="760.8" x2="313.0" y2="760.8" stroke="#000" stroke-width="1.2" />
<text x="302.3" y="768.3" font-size="13.2" text-anchor="end" >0</text>
<line x1="309.5" y1="733.0" x2="313.0" y2="733.0" stroke="#000" stroke-width="1.2" />
<text x="302.3" y="740.5" font-size="13.2" text-anchor="end" >20</text>
<line x1="309.5" y1="705.1" x2="313.0" y2="705.1" stroke="#000" stroke-width="1.2" />
<text x="302.3" y="712.6" font-size="13.2" text-anchor="end" >40</text>
<line x1="309.5" y1="677.3" x2="313.0" y2="677.3" stroke="#000" stroke-width="1.2" />
<text x="302.3" y="684.8" font-size="13.2" text-anchor="end" >60</text>
<line x1="309.5" y1="649.5" x2="313.0" y2="649.5" stroke="#000" stroke-width="1.2" />
<text x="302.3" y="657.0" font-size="13.2" text-anchor="end" >80</text>
<line x1="309.5" y1="621.6" x2="313.0" y2="621.6" stroke="#000" stroke-width="1.2" />
<text x="302.3" y="629.1" font-size="13.2" text-anchor="end" >100</text>
<line x1="309.5" y1="593.8" x2="313.0" y2="593.8" stroke="#000" stroke-width="1.2" />
<text x="302.3" y="601.3" font-size="13.2" text-anchor="end" >120</text>
<line x1="369.5" y1="760.8" x2="369.5" y2="763.8" stroke="#000" stroke-width="1.2" />
<line x1="426.0" y1="760.8" x2="426.0" y2="763.8" stroke="#000" stroke-width="1.2" />
<line x1="483.0" y1="760.8" x2="483.0" y2="763.8" stroke="#000" stroke-width="1.2" />
<text x="313.0" y="785.0" font-size="12.5" text-anchor="middle" >0</text>
<text x="369.0" y="785.0" font-size="12.5" text-anchor="middle" >10</text>
<text x="426.5" y="785.0" font-size="12.5" text-anchor="middle" >100</text>
<text x="483.0" y="785.0" font-size="12.5" text-anchor="middle" >1000</text>
<text x="348.3" y="605.5" font-size="14.3" text-anchor="start" >Isotype matched IgG</text>
<text x="314.3" y="802.0" font-size="14" text-anchor="start" >Antibody Concentration (ng/mL)</text>
<polyline points="313.0,621.6 369.5,623.0 426.0,625.1 483.0,627.2" fill="none" stroke="#2a48b0" stroke-width="2.3" stroke-linejoin="round"/>
<circle cx="313.0" cy="621.6" r="2.9" fill="#7488cb" stroke="#2a48b0" stroke-width="1"/>
<circle cx="369.5" cy="623.0" r="2.9" fill="#7488cb" stroke="#2a48b0" stroke-width="1"/>
<circle cx="426.0" cy="625.1" r="2.9" fill="#7488cb" stroke="#2a48b0" stroke-width="1"/>
<circle cx="483.0" cy="627.2" r="2.9" fill="#7488cb" stroke="#2a48b0" stroke-width="1"/>
<polyline points="313.0,621.6 369.5,624.4 426.0,627.2 483.0,630.0" fill="none" stroke="#2ca048" stroke-width="2.3" stroke-linejoin="round"/>
<rect x="310.1" y="618.7" width="5.8" height="5.8" fill="#75c188" stroke="#2ca048" stroke-width="1"/>
<rect x="366.6" y="621.5" width="5.8" height="5.8" fill="#75c188" stroke="#2ca048" stroke-width="1"/>
<rect x="423.1" y="624.3" width="5.8" height="5.8" fill="#75c188" stroke="#2ca048" stroke-width="1"/>
<rect x="480.1" y="627.1" width="5.8" height="5.8" fill="#75c188" stroke="#2ca048" stroke-width="1"/>
<polyline points="313.0,621.6 369.5,623.7 426.0,627.2 483.0,630.0" fill="none" stroke="#7a22aa" stroke-width="2.3" stroke-linejoin="round"/>
<circle cx="313.0" cy="621.6" r="2.9" fill="#a86fc7" stroke="#7a22aa" stroke-width="1"/>
<circle cx="369.5" cy="623.7" r="2.9" fill="#a86fc7" stroke="#7a22aa" stroke-width="1"/>
<circle cx="426.0" cy="627.2" r="2.9" fill="#a86fc7" stroke="#7a22aa" stroke-width="1"/>
<circle cx="483.0" cy="630.0" r="2.9" fill="#a86fc7" stroke="#7a22aa" stroke-width="1"/>
<polyline points="313.0,621.6 369.5,624.4 426.0,627.9 483.0,632.8" fill="none" stroke="#ee2255" stroke-width="2.3" stroke-linejoin="round"/>
<path d="M313.0 618.0L316.6 624.5L309.4 624.5Z" fill="#f36f90" stroke="#ee2255" stroke-width="1"/>
<path d="M369.5 620.8L373.1 627.3L365.9 627.3Z" fill="#f36f90" stroke="#ee2255" stroke-width="1"/>
<path d="M426.0 624.3L429.6 630.8L422.4 630.8Z" fill="#f36f90" stroke="#ee2255" stroke-width="1"/>
<path d="M483.0 629.1L486.6 635.7L479.4 635.7Z" fill="#f36f90" stroke="#ee2255" stroke-width="1"/>
<polyline points="313.0,621.6 369.5,624.4 426.0,627.2 483.0,631.4" fill="none" stroke="#a03c96" stroke-width="2.3" stroke-linejoin="round"/>
<path d="M313.0 618.0L316.6 624.5L309.4 624.5Z" fill="#c180ba" stroke="#a03c96" stroke-width="1"/>
<path d="M369.5 620.8L373.1 627.3L365.9 627.3Z" fill="#c180ba" stroke="#a03c96" stroke-width="1"/>
<path d="M426.0 623.6L429.6 630.1L422.4 630.1Z" fill="#c180ba" stroke="#a03c96" stroke-width="1"/>
<path d="M483.0 627.8L486.6 634.3L479.4 634.3Z" fill="#c180ba" stroke="#a03c96" stroke-width="1"/>
<polyline points="313.0,621.6 369.5,624.4 426.0,627.9 483.0,634.2" fill="none" stroke="#ee22cc" stroke-width="2.3" stroke-linejoin="round"/>
<rect x="310.1" y="618.7" width="5.8" height="5.8" fill="#f36fdd" stroke="#ee22cc" stroke-width="1"/>
<rect x="366.6" y="621.5" width="5.8" height="5.8" fill="#f36fdd" stroke="#ee22cc" stroke-width="1"/>
<rect x="423.1" y="625.0" width="5.8" height="5.8" fill="#f36fdd" stroke="#ee22cc" stroke-width="1"/>
<rect x="480.1" y="631.3" width="5.8" height="5.8" fill="#f36fdd" stroke="#ee22cc" stroke-width="1"/>
<line x1="336.2" y1="652.9" x2="357.0" y2="652.9" stroke="#1a3aa0" stroke-width="2" />
<circle cx="346.3" cy="652.9" r="2.6" fill="#3a5ad0" stroke="#1a3aa0" stroke-width="1"/>
<text x="361.0" y="657.5" font-size="12.1" text-anchor="start" >Fibroblast T1</text>
<line x1="336.2" y1="669.2" x2="357.0" y2="669.2" stroke="#ee22cc" stroke-width="2" />
<rect x="343.7" y="666.6" width="5.2" height="5.2" fill="#ff44dd" stroke="#ee22cc" stroke-width="1"/>
<text x="361.0" y="673.8" font-size="12.1" text-anchor="start" >HL-60</text>
<line x1="336.2" y1="685.5" x2="357.0" y2="685.5" stroke="#a03c96" stroke-width="2" />
<path d="M346.3 682.2L349.6 688.1L343.1 688.1Z" fill="#b860b0" stroke="#a03c96" stroke-width="1"/>
<text x="361.0" y="690.1" font-size="12.1" text-anchor="start" >Hut-78</text>
<line x1="336.2" y1="701.8" x2="357.0" y2="701.8" stroke="#ee2255" stroke-width="2" />
<path d="M346.3 698.5L349.6 704.4L343.1 704.4Z" fill="#f04a70" stroke="#ee2255" stroke-width="1"/>
<text x="361.0" y="706.4" font-size="12.1" text-anchor="start" >KS</text>
<line x1="336.2" y1="718.1" x2="357.0" y2="718.1" stroke="#2ca048" stroke-width="2" />
<rect x="343.7" y="715.5" width="5.2" height="5.2" fill="#40c060" stroke="#2ca048" stroke-width="1"/>
<text x="361.0" y="722.7" font-size="12.1" text-anchor="start" >Hey</text>
<line x1="336.2" y1="734.4" x2="357.0" y2="734.4" stroke="#7a22aa" stroke-width="2" />
<circle cx="346.3" cy="734.4" r="2.6" fill="#9a50c0" stroke="#7a22aa" stroke-width="1"/>
<text x="361.0" y="739.0" font-size="12.1" text-anchor="start" >M21</text>
<text x="42.8" y="863.4" font-size="26.8" text-anchor="start" font-weight="bold" >D</text>
<rect x="89.8" y="865.0" width="9.5" height="9.8" fill="#000" stroke="none" stroke-width="0" />
<text x="102.2" y="874.6" font-size="14.1" text-anchor="start" >VEGFR-2 Ab</text>
<rect x="206.1" y="865.5" width="7.7" height="8.3" fill="#fff" stroke="#000" stroke-width="1.4" />
<text x="217.8" y="874.6" font-size="14.1" text-anchor="start" >VEGFR-1 Ab</text>
<rect x="316.8" y="865.0" width="8.6" height="8.8" fill="#fff" stroke="#000" stroke-width="1.6" />
<path d="M317.4 865.8 L324.8 873.2" stroke="#000" stroke-width="1.5"/>
<path d="M321.8 865 L325.4 865 L325.4 868.6 Z M323.6 873.8 L325.4 873.8 L325.4 872 Z" fill="#000"/>
<text x="330.6" y="874.6" font-size="14.1" text-anchor="start" >VEGFR-2 Ab+VEGFR-1 Ab</text>
<rect x="90.0" y="887.5" width="201.8" height="162.9" fill="none" stroke="#8c9bb4" stroke-width="1" />
<rect x="95.1" y="914.7" width="14.1" height="135.7" fill="#000" stroke="none" stroke-width="0" />
<line x1="102.1" y1="912.5" x2="102.1" y2="917.9" stroke="#000" stroke-width="1.4" />
<line x1="99.6" y1="912.5" x2="104.6" y2="912.5" stroke="#000" stroke-width="1.6" />
<line x1="99.6" y1="917.9" x2="104.6" y2="917.9" stroke="#000" stroke-width="1.6" />
<rect x="108.7" y="915.2" width="13.1" height="135.2" fill="#fff" stroke="#000" stroke-width="1.5" />
<line x1="115.2" y1="913.2" x2="115.2" y2="917.2" stroke="#000" stroke-width="1.4" />
<line x1="112.7" y1="913.2" x2="117.7" y2="913.2" stroke="#000" stroke-width="1.6" />
<line x1="112.7" y1="917.2" x2="117.7" y2="917.2" stroke="#000" stroke-width="1.6" />
<rect x="121.8" y="915.2" width="13.1" height="135.2" fill="url(#hD)" stroke="#000" stroke-width="1.4" />
<line x1="128.3" y1="912.5" x2="128.3" y2="917.9" stroke="#000" stroke-width="1.4" />
<line x1="125.8" y1="912.5" x2="130.8" y2="912.5" stroke="#000" stroke-width="1.6" />
<line x1="125.8" y1="917.9" x2="130.8" y2="917.9" stroke="#000" stroke-width="1.6" />
<rect x="145.3" y="968.9" width="14.1" height="81.5" fill="#000" stroke="none" stroke-width="0" />
<rect x="158.9" y="949.5" width="13.1" height="100.9" fill="#fff" stroke="#000" stroke-width="1.5" />
<line x1="165.5" y1="945.7" x2="165.5" y2="953.3" stroke="#000" stroke-width="1.4" />
<line x1="163.0" y1="945.7" x2="168.0" y2="945.7" stroke="#000" stroke-width="1.6" />
<line x1="163.0" y1="953.3" x2="168.0" y2="953.3" stroke="#000" stroke-width="1.6" />
<rect x="172.0" y="990.5" width="13.1" height="59.9" fill="url(#hD)" stroke="#000" stroke-width="1.4" />
<line x1="178.6" y1="984.7" x2="178.6" y2="996.4" stroke="#000" stroke-width="1.4" />
<line x1="176.1" y1="984.7" x2="181.1" y2="984.7" stroke="#000" stroke-width="1.6" />
<line x1="176.1" y1="996.4" x2="181.1" y2="996.4" stroke="#000" stroke-width="1.6" />
<rect x="195.8" y="999.9" width="14.1" height="50.5" fill="#000" stroke="none" stroke-width="0" />
<line x1="202.9" y1="997.6" x2="202.9" y2="1003.3" stroke="#000" stroke-width="1.4" />
<line x1="200.4" y1="997.6" x2="205.4" y2="997.6" stroke="#000" stroke-width="1.6" />
<line x1="200.4" y1="1003.3" x2="205.4" y2="1003.3" stroke="#000" stroke-width="1.6" />
<rect x="209.4" y="986.5" width="13.1" height="63.9" fill="#fff" stroke="#000" stroke-width="1.5" />
<line x1="216.0" y1="983.3" x2="216.0" y2="989.6" stroke="#000" stroke-width="1.4" />
<line x1="213.5" y1="983.3" x2="218.5" y2="983.3" stroke="#000" stroke-width="1.6" />
<line x1="213.5" y1="989.6" x2="218.5" y2="989.6" stroke="#000" stroke-width="1.6" />
<rect x="222.5" y="1013.9" width="13.1" height="36.5" fill="url(#hD)" stroke="#000" stroke-width="1.4" />
<rect x="246.4" y="1021.9" width="14.1" height="28.5" fill="#000" stroke="none" stroke-width="0" />
<rect x="260.0" y="1005.1" width="13.1" height="45.3" fill="#fff" stroke="#000" stroke-width="1.5" />
<line x1="266.6" y1="1002.9" x2="266.6" y2="1007.2" stroke="#000" stroke-width="1.4" />
<line x1="264.1" y1="1002.9" x2="269.1" y2="1002.9" stroke="#000" stroke-width="1.6" />
<line x1="264.1" y1="1007.2" x2="269.1" y2="1007.2" stroke="#000" stroke-width="1.6" />
<rect x="273.1" y="1035.2" width="13.1" height="15.2" fill="url(#hD)" stroke="#000" stroke-width="1.4" />
<line x1="90.0" y1="887.0" x2="90.0" y2="1051.4" stroke="#000" stroke-width="2" />
<line x1="89.0" y1="1050.4" x2="291.8" y2="1050.4" stroke="#000" stroke-width="2" />
<line x1="87.0" y1="1050.4" x2="90.0" y2="1050.4" stroke="#000" stroke-width="1.2" />
<text x="75.2" y="1058.2" font-size="12.8" text-anchor="end" >0</text>
<line x1="87.0" y1="1023.3" x2="90.0" y2="1023.3" stroke="#000" stroke-width="1.2" />
<text x="76.8" y="1031.1" font-size="12.8" text-anchor="end" >20</text>
<line x1="87.0" y1="996.1" x2="90.0" y2="996.1" stroke="#000" stroke-width="1.2" />
<text x="76.8" y="1003.9" font-size="12.8" text-anchor="end" >40</text>
<line x1="87.0" y1="969.0" x2="90.0" y2="969.0" stroke="#000" stroke-width="1.2" />
<text x="76.8" y="976.8" font-size="12.8" text-anchor="end" >60</text>
<line x1="87.0" y1="941.8" x2="90.0" y2="941.8" stroke="#000" stroke-width="1.2" />
<text x="76.8" y="949.6" font-size="12.8" text-anchor="end" >80</text>
<line x1="87.0" y1="914.6" x2="90.0" y2="914.6" stroke="#000" stroke-width="1.2" />
<text x="80.9" y="922.4" font-size="12.8" text-anchor="end" >100</text>
<line x1="87.0" y1="887.5" x2="90.0" y2="887.5" stroke="#000" stroke-width="1.2" />
<text x="80.9" y="895.3" font-size="12.8" text-anchor="end" >120</text>
<line x1="140.5" y1="1050.4" x2="140.5" y2="1053.4" stroke="#000" stroke-width="1.2" />
<line x1="191.0" y1="1050.4" x2="191.0" y2="1053.4" stroke="#000" stroke-width="1.2" />
<line x1="241.5" y1="1050.4" x2="241.5" y2="1053.4" stroke="#000" stroke-width="1.2" />
<line x1="291.0" y1="1050.4" x2="291.0" y2="1053.4" stroke="#000" stroke-width="1.2" />
<text x="113.5" y="1072.0" font-size="12.8" text-anchor="middle" >0</text>
<text x="168.7" y="1072.0" font-size="12.8" text-anchor="middle" >10</text>
<text x="222.2" y="1072.0" font-size="12.8" text-anchor="middle" >100</text>
<text x="272.0" y="1072.0" font-size="12.8" text-anchor="middle" >1000</text>
<text x="93.8" y="1091.6" font-size="14" text-anchor="start" >Antibody Concentration (ng/mL)</text>
<text x="0" y="0" font-size="13.8" transform="translate(57.0,1046.0) rotate(-90)">Proliferation (%&#160; Control)</text>
<text x="171.5" y="917.4" font-size="13.7" text-anchor="start" >M21</text>
<rect x="301.8" y="887.4" width="206.0" height="164.8" fill="none" stroke="#8c9bb4" stroke-width="1" />
<rect x="307.4" y="913.1" width="14.3" height="139.1" fill="#000" stroke="none" stroke-width="0" />
<line x1="314.5" y1="910.6" x2="314.5" y2="916.7" stroke="#000" stroke-width="1.4" />
<line x1="312.0" y1="910.6" x2="317.0" y2="910.6" stroke="#000" stroke-width="1.6" />
<line x1="312.0" y1="916.7" x2="317.0" y2="916.7" stroke="#000" stroke-width="1.6" />
<rect x="321.2" y="913.6" width="13.3" height="138.6" fill="#fff" stroke="#000" stroke-width="1.5" />
<line x1="327.8" y1="910.6" x2="327.8" y2="916.7" stroke="#000" stroke-width="1.4" />
<line x1="325.3" y1="910.6" x2="330.3" y2="910.6" stroke="#000" stroke-width="1.6" />
<line x1="325.3" y1="916.7" x2="330.3" y2="916.7" stroke="#000" stroke-width="1.6" />
<rect x="334.5" y="913.6" width="13.3" height="138.6" fill="url(#hD)" stroke="#000" stroke-width="1.4" />
<line x1="341.1" y1="910.6" x2="341.1" y2="916.7" stroke="#000" stroke-width="1.4" />
<line x1="338.6" y1="910.6" x2="343.6" y2="910.6" stroke="#000" stroke-width="1.6" />
<line x1="338.6" y1="916.7" x2="343.6" y2="916.7" stroke="#000" stroke-width="1.6" />
<rect x="359.1" y="948.4" width="14.3" height="103.8" fill="#000" stroke="none" stroke-width="0" />
<line x1="366.2" y1="942.7" x2="366.2" y2="955.1" stroke="#000" stroke-width="1.4" />
<line x1="363.8" y1="942.7" x2="368.8" y2="942.7" stroke="#000" stroke-width="1.6" />
<line x1="363.8" y1="955.1" x2="368.8" y2="955.1" stroke="#000" stroke-width="1.6" />
<rect x="372.9" y="936.7" width="13.3" height="115.5" fill="#fff" stroke="#000" stroke-width="1.5" />
<line x1="379.6" y1="934.0" x2="379.6" y2="939.4" stroke="#000" stroke-width="1.4" />
<line x1="377.1" y1="934.0" x2="382.1" y2="934.0" stroke="#000" stroke-width="1.6" />
<line x1="377.1" y1="939.4" x2="382.1" y2="939.4" stroke="#000" stroke-width="1.6" />
<rect x="386.2" y="988.9" width="13.3" height="63.3" fill="url(#hD)" stroke="#000" stroke-width="1.4" />
<rect x="410.7" y="992.6" width="14.3" height="59.6" fill="#000" stroke="none" stroke-width="0" />
<line x1="417.8" y1="989.4" x2="417.8" y2="996.9" stroke="#000" stroke-width="1.4" />
<line x1="415.3" y1="989.4" x2="420.3" y2="989.4" stroke="#000" stroke-width="1.6" />
<line x1="415.3" y1="996.9" x2="420.3" y2="996.9" stroke="#000" stroke-width="1.6" />
<rect x="424.5" y="955.5" width="13.3" height="96.7" fill="#fff" stroke="#000" stroke-width="1.5" />
<line x1="431.1" y1="954.1" x2="431.1" y2="956.9" stroke="#000" stroke-width="1.4" />
<line x1="428.6" y1="954.1" x2="433.6" y2="954.1" stroke="#000" stroke-width="1.6" />
<line x1="428.6" y1="956.9" x2="433.6" y2="956.9" stroke="#000" stroke-width="1.6" />
<rect x="437.8" y="1022.9" width="13.3" height="29.3" fill="url(#hD)" stroke="#000" stroke-width="1.4" />
<line x1="444.4" y1="1019.1" x2="444.4" y2="1026.8" stroke="#000" stroke-width="1.4" />
<line x1="441.9" y1="1019.1" x2="446.9" y2="1019.1" stroke="#000" stroke-width="1.6" />
<line x1="441.9" y1="1026.8" x2="446.9" y2="1026.8" stroke="#000" stroke-width="1.6" />
<rect x="461.4" y="1017.8" width="14.3" height="34.4" fill="#000" stroke="none" stroke-width="0" />
<line x1="468.5" y1="1016.1" x2="468.5" y2="1020.5" stroke="#000" stroke-width="1.4" />
<line x1="466.0" y1="1016.1" x2="471.0" y2="1016.1" stroke="#000" stroke-width="1.6" />
<line x1="466.0" y1="1020.5" x2="471.0" y2="1020.5" stroke="#000" stroke-width="1.6" />
<rect x="475.2" y="971.0" width="13.3" height="81.2" fill="#fff" stroke="#000" stroke-width="1.5" />
<line x1="481.8" y1="969.5" x2="481.8" y2="972.5" stroke="#000" stroke-width="1.4" />
<line x1="479.3" y1="969.5" x2="484.3" y2="969.5" stroke="#000" stroke-width="1.6" />
<line x1="479.3" y1="972.5" x2="484.3" y2="972.5" stroke="#000" stroke-width="1.6" />
<rect x="488.5" y="1036.7" width="13.3" height="15.5" fill="url(#hD)" stroke="#000" stroke-width="1.4" />
<line x1="495.1" y1="1035.6" x2="495.1" y2="1037.8" stroke="#000" stroke-width="1.4" />
<line x1="492.6" y1="1035.6" x2="497.6" y2="1035.6" stroke="#000" stroke-width="1.6" />
<line x1="492.6" y1="1037.8" x2="497.6" y2="1037.8" stroke="#000" stroke-width="1.6" />
<line x1="301.8" y1="886.9" x2="301.8" y2="1053.2" stroke="#000" stroke-width="2" />
<line x1="300.8" y1="1052.2" x2="508.8" y2="1052.2" stroke="#000" stroke-width="2" />
<line x1="298.8" y1="1052.2" x2="301.8" y2="1052.2" stroke="#000" stroke-width="1.2" />
<line x1="298.8" y1="1024.7" x2="301.8" y2="1024.7" stroke="#000" stroke-width="1.2" />
<line x1="298.8" y1="997.3" x2="301.8" y2="997.3" stroke="#000" stroke-width="1.2" />
<line x1="298.8" y1="969.8" x2="301.8" y2="969.8" stroke="#000" stroke-width="1.2" />
<line x1="298.8" y1="942.3" x2="301.8" y2="942.3" stroke="#000" stroke-width="1.2" />
<line x1="298.8" y1="914.9" x2="301.8" y2="914.9" stroke="#000" stroke-width="1.2" />
<line x1="298.8" y1="887.4" x2="301.8" y2="887.4" stroke="#000" stroke-width="1.2" />
<line x1="353.0" y1="1052.2" x2="353.0" y2="1055.2" stroke="#000" stroke-width="1.2" />
<line x1="404.5" y1="1052.2" x2="404.5" y2="1055.2" stroke="#000" stroke-width="1.2" />
<line x1="456.0" y1="1052.2" x2="456.0" y2="1055.2" stroke="#000" stroke-width="1.2" />
<text x="329.0" y="1073.8" font-size="12.8" text-anchor="middle" >0</text>
<text x="385.0" y="1073.8" font-size="12.8" text-anchor="middle" >10</text>
<text x="437.6" y="1073.8" font-size="12.8" text-anchor="middle" >100</text>
<text x="487.7" y="1073.8" font-size="12.8" text-anchor="middle" >1000</text>
<text x="314.6" y="1091.8" font-size="14" text-anchor="start" >Antibody Concentration (ng/mL)</text>
<text x="394.5" y="917.8" font-size="13.7" text-anchor="start" >Hey</text>
</svg></body></html>
